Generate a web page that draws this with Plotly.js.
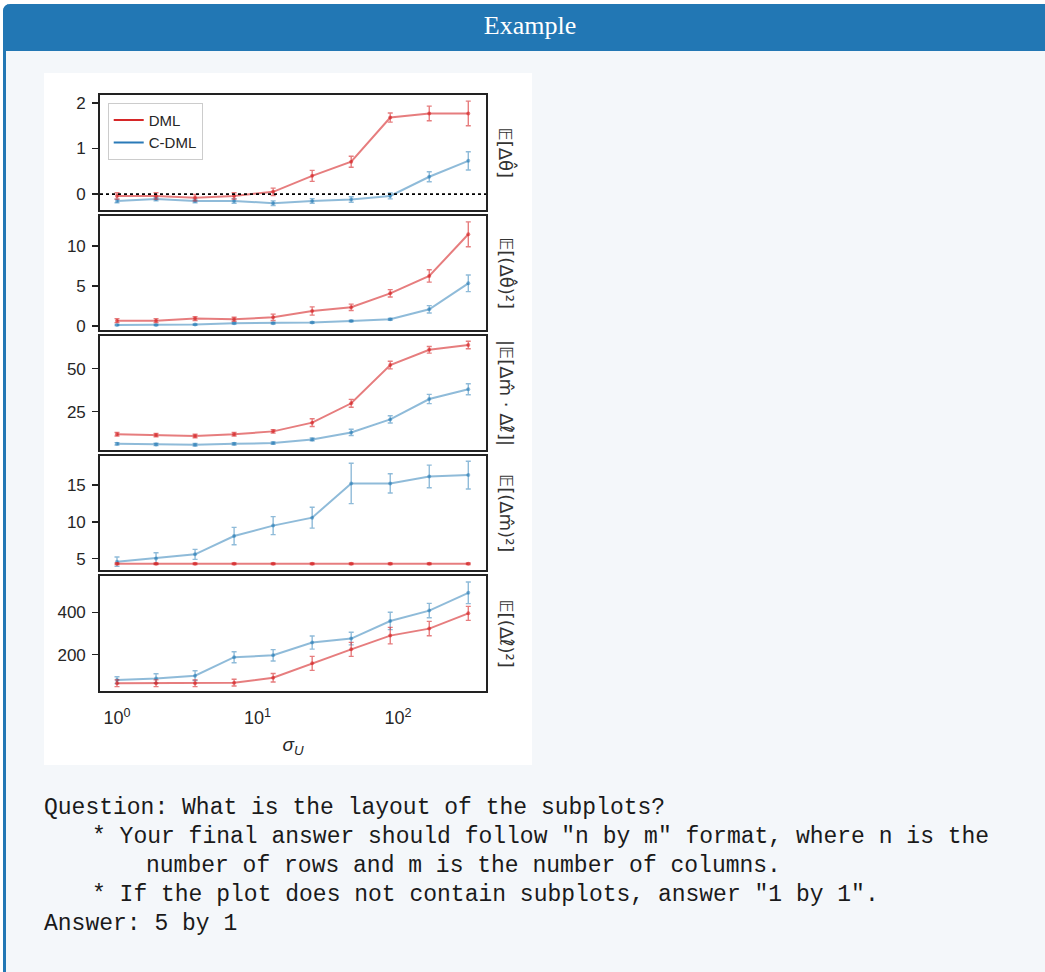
<!DOCTYPE html>
<html>
<head>
<meta charset="utf-8">
<script src="https://cdn.plot.ly/plotly-3.0.1.min.js"></script>
<style>
  html, body { margin:0; padding:0; background:#ffffff; width:1045px; height:972px; overflow:hidden; }
  #box { position:absolute; left:3px; top:4px; width:1100px; height:1000px; background:#f4f7fa;
         border-left:3px solid #2277b4; border-top-left-radius:7px; box-sizing:border-box; }
  #head { position:absolute; left:3px; top:4px; width:1100px; height:47px; background:#2277b4;
          border-top-left-radius:7px; }
  #headtxt { position:absolute; left:430px; width:200px; top:11px; text-align:center; color:#ffffff;
             font-family:"Liberation Serif","Times New Roman",serif; font-size:26px; line-height:30px; }
  #chart { position:absolute; left:44px; top:73px; width:488px; height:692px; background:#ffffff; }
  .q { position:absolute; font-family:"Liberation Mono","DejaVu Sans Mono",monospace; font-size:23px;
       line-height:29px; color:#1a1a1a; white-space:pre; }
</style>
</head>
<body>
<div id="box"></div>
<div id="head"></div>
<div id="headtxt">Example</div>
<div id="chart"></div>
<div class="q" style="left:44px; top:794px;">Question: What is the layout of the subplots?</div>
<div class="q" style="left:92px; top:823px;">* Your final answer should follow "n by m" format, where n is the</div>
<div class="q" style="left:146px; top:852px;">number of rows and m is the number of columns.</div>
<div class="q" style="left:92px; top:881px;">* If the plot does not contain subplots, answer "1 by 1".</div>
<div class="q" style="left:44px; top:910px;">Answer: 5 by 1</div>
<script>
// ---- data ----
const sigmaU = [1, 1.896, 3.594, 6.813, 12.92, 24.49, 46.42, 88.01, 166.8, 316.2];
const seriesNames = ["DML", "C-DML"];
const panelLabels = ["𝔼[Δθ̂]", "𝔼[(Δθ̂)²]", "|𝔼[Δm̂ · Δℓ̂]|", "𝔼[(Δm̂)²]", "𝔼[(Δℓ̂)²]"];
const xTickVals = [1, 10, 100];
const xTickText = ["10<sup>0</sup>", "10<sup>1</sup>", "10<sup>2</sup>"];

const theta_dml = [-0.04, -0.04, -0.08, -0.04, 0.05, 0.40, 0.71, 1.68, 1.77, 1.77];
const theta_dml_err = [0.07, 0.07, 0.07, 0.07, 0.08, 0.12, 0.12, 0.10, 0.16, 0.27];
const theta_cdml = [-0.15, -0.11, -0.15, -0.15, -0.20, -0.15, -0.12, -0.04, 0.38, 0.73];
const theta_cdml_err = [0.04, 0.04, 0.04, 0.05, 0.05, 0.05, 0.06, 0.065, 0.11, 0.20];

const thetaSq_dml = [0.66, 0.66, 0.92, 0.83, 1.08, 1.87, 2.33, 4.08, 6.25, 11.46];
const thetaSq_dml_err = [0.25, 0.25, 0.25, 0.25, 0.40, 0.52, 0.40, 0.46, 0.77, 1.56];
const thetaSq_cdml = [0.12, 0.12, 0.17, 0.33, 0.33, 0.42, 0.62, 0.83, 2.08, 5.33];
const thetaSq_cdml_err = [0.08, 0.08, 0.08, 0.10, 0.10, 0.10, 0.10, 0.12, 0.46, 1.04];

const ml_dml = [11.8, 11.35, 10.8, 11.8, 13.5, 18.6, 29.9, 52.2, 61.1, 63.9];
const ml_dml_err = [1.0, 1.0, 1.0, 1.0, 1.0, 2.3, 2.3, 2.2, 1.9, 2.2];
const ml_cdml = [6.25, 5.9, 5.7, 6.25, 6.66, 8.8, 12.9, 20.5, 32.4, 38.1];
const ml_cdml_err = [0.7, 0.7, 0.7, 0.7, 0.7, 0.8, 1.8, 2.1, 2.7, 3.2];

const mSq_dml = [4.32, 4.32, 4.32, 4.32, 4.32, 4.32, 4.32, 4.32, 4.32, 4.32];
const mSq_dml_err = [0.1, 0.1, 0.1, 0.1, 0.1, 0.1, 0.1, 0.1, 0.1, 0.1];
const mSq_cdml = [4.6, 5.05, 5.6, 8.08, 9.5, 10.58, 15.23, 15.23, 16.18, 16.36];
const mSq_cdml_err = [0.63, 0.77, 0.68, 1.18, 1.22, 1.42, 2.74, 1.31, 1.54, 1.88];

const lSq_dml = [65, 65, 65, 68, 91, 159, 225, 290, 323, 395];
const lSq_dml_err = [16, 16, 16, 16, 20, 33, 33, 39, 34, 33];
const lSq_cdml = [80, 88, 101, 188, 197, 257, 276, 359, 408, 492];
const lSq_cdml_err = [16, 22, 23, 26, 27, 31, 30, 41, 34, 51];

// ---- styling ----
const RED = "rgba(214,39,40,0.6)";
const BLUE = "rgba(31,119,180,0.5)";
const panels = [
  {dml: theta_dml, de: theta_dml_err, cd: theta_cdml, ce: theta_cdml_err, range: [-0.35, 2.175], dtick: 1, dom: [0.807, 1]},
  {dml: thetaSq_dml, de: thetaSq_dml_err, cd: thetaSq_cdml, ce: thetaSq_cdml_err, range: [-0.56, 13.75], dtick: 5, dom: [0.605, 0.797]},
  {dml: ml_dml, de: ml_dml_err, cd: ml_cdml, ce: ml_cdml_err, range: [2.5, 69.3], dtick: 25, dom: [0.404, 0.596]},
  {dml: mSq_dml, de: mSq_dml_err, cd: mSq_cdml, ce: mSq_cdml_err, range: [3.47, 18.93], dtick: 5, dom: [0.203, 0.394]},
  {dml: lSq_dml, de: lSq_dml_err, cd: lSq_cdml, ce: lSq_cdml_err, range: [28.5, 571.5], dtick: 200, dom: [0, 0.193]}
];

const traces = [];
const layout = {
  width: 488, height: 692,
  margin: {l: 56, r: 46, t: 22, b: 74},
  paper_bgcolor: "#ffffff", plot_bgcolor: "#ffffff",
  font: {family: "Liberation Sans, Arial, sans-serif", size: 17, color: "#262626"},
  showlegend: true,
  legend: {x: 0.02, y: 0.987, xanchor: "left", yanchor: "top", bgcolor: "#ffffff",
           bordercolor: "#cccccc", borderwidth: 1, font: {size: 15, color: "#262626"},
           itemwidth: 30, tracegroupgap: 0},
  annotations: [], shapes: []
};

panels.forEach((p, i) => {
  const n = i + 1;
  const xa = n === 1 ? "x" : "x" + n;
  const ya = n === 1 ? "y" : "y" + n;
  const common = {x: sigmaU, xaxis: xa, yaxis: ya, mode: "lines+markers", showlegend: false,
                  hoverinfo: "skip"};
  traces.push(Object.assign({}, common, {
    y: p.cd, line: {color: BLUE, width: 2}, marker: {size: 4, color: BLUE},
    error_y: {type: "data", array: p.ce, visible: true, color: BLUE, thickness: 1.4, width: 2.5}
  }));
  traces.push(Object.assign({}, common, {
    y: p.dml, line: {color: RED, width: 2}, marker: {size: 4, color: RED},
    error_y: {type: "data", array: p.de, visible: true, color: RED, thickness: 1.4, width: 2.5}
  }));
  const xax = {
    type: "log", range: [-0.121, 2.626], anchor: ya, domain: [0, 1],
    showline: true, mirror: true, linecolor: "#222222", linewidth: 1.8,
    showgrid: false, zeroline: false, ticks: "",
    tickvals: xTickVals, ticktext: xTickText,
    showticklabels: n === 5, ticklabelstandoff: 10,
    tickfont: {size: 18}
  };
  if (n === 5) xax.title = {text: "<i>σ</i><sub><i>U</i></sub>", font: {size: 19}, standoff: 10};
  layout["xaxis" + (n === 1 ? "" : n)] = xax;
  layout["yaxis" + (n === 1 ? "" : n)] = {
    range: p.range, domain: p.dom, anchor: xa,
    showline: true, mirror: true, linecolor: "#222222", linewidth: 1.8,
    showgrid: false, zeroline: false, ticks: "outside", ticklen: 6, tickwidth: 1.3, tickcolor: "#222222",
    dtick: p.dtick, tick0: 0, ticklabelstandoff: 3, tickfont: {size: 17}
  };
  layout.annotations.push({
    text: panelLabels[i], xref: "paper", yref: "paper",
    x: 1 + 21 / 386, y: (p.dom[0] + p.dom[1]) / 2, xanchor: "center", yanchor: "middle",
    textangle: 90, showarrow: false, font: {family: "DejaVu Sans, sans-serif", size: 18, color: "#333333"}
  });
});

// dotted zero line in top panel
layout.shapes.push({type: "line", xref: "x domain", yref: "y", x0: 0, x1: 1, y0: 0, y1: 0,
                    line: {color: "#000000", width: 1.8, dash: "dot"}});

// legend entries
traces.push({x: [null], y: [null], mode: "lines", name: seriesNames[0], line: {color: "#d62728", width: 2}, showlegend: true});
traces.push({x: [null], y: [null], mode: "lines", name: seriesNames[1], line: {color: "#2a7ab8", width: 2}, showlegend: true});

Plotly.newPlot("chart", traces, layout, {displayModeBar: false, staticPlot: true});
</script>
</body>
</html>
